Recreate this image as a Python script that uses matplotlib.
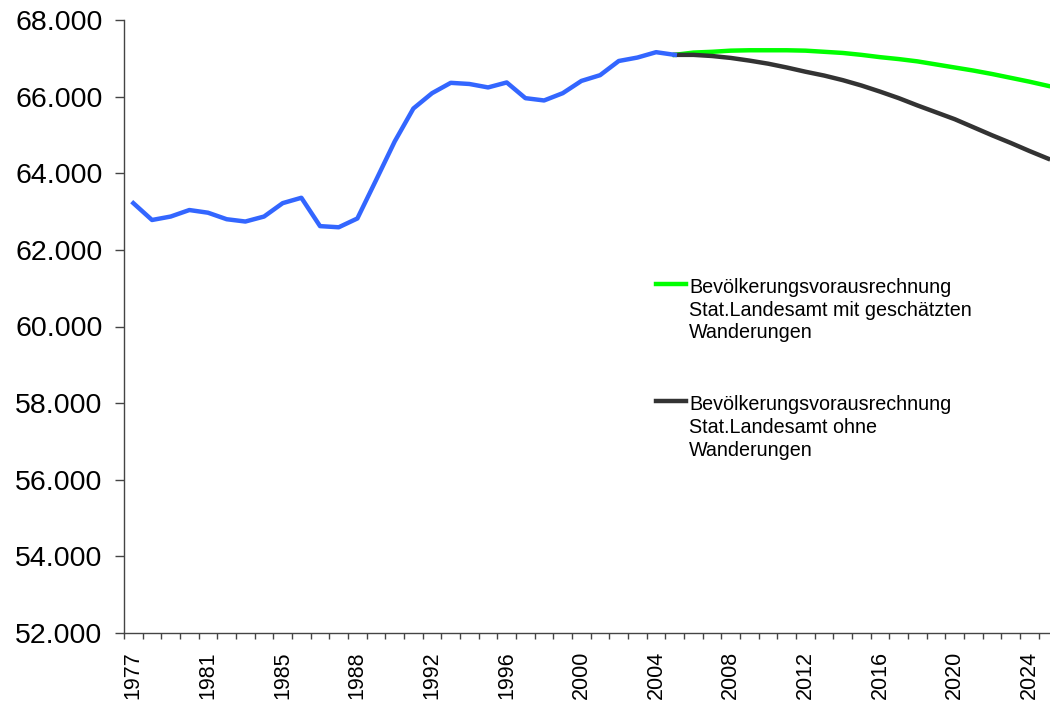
import matplotlib
matplotlib.use("Agg")
import matplotlib.pyplot as plt
from matplotlib.lines import Line2D
from matplotlib.ticker import FuncFormatter
import numpy as np

plt.rcParams['font.family'] = ['Liberation Sans', 'DejaVu Sans']

# ---- data ----
years = ["1977", "1978", "1979", "1980", "1981", "1982", "1983", "1984", "1985",
         "1986", "1987", "1987", "1988", "1989", "1990", "1991", "1992", "1993",
         "1994", "1995", "1996", "1997", "1998", "1999", "2000", "2001", "2002",
         "2003", "2004", "2005", "2006", "2007", "2008", "2009", "2010", "2011",
         "2012", "2013", "2014", "2015", "2016", "2017", "2018", "2019", "2020",
         "2021", "2022", "2023", "2024", "2025"]

ist = [63220, 62780, 62870, 63040, 62970, 62800, 62740, 62870, 63220, 63360,
       62620, 62590, 62820, 63820, 64830, 65690, 66090, 66360, 66330, 66240,
       66370, 65960, 65900, 66090, 66410, 66560, 66930, 67020, 67160, 67090]

mit_wanderung = [67090, 67150, 67170, 67200, 67210, 67210, 67210, 67200, 67170,
                 67140, 67090, 67030, 66980, 66920, 66840, 66760, 66680, 66590,
                 66490, 66390, 66280]

ohne_wanderung = [67090, 67090, 67060, 67010, 66940, 66860, 66760, 66650, 66550,
                  66430, 66290, 66130, 65960, 65770, 65590, 65410, 65200, 64990,
                  64790, 64580, 64380]

label_mit = "Bevölkerungsvorausrechnung\nStat.Landesamt mit geschätzten\nWanderungen"
label_ohne = "Bevölkerungsvorausrechnung\nStat.Landesamt ohne\nWanderungen"

# ---- figure ----
W, H = 1050, 702
fig = plt.figure(figsize=(W / 100, H / 100), dpi=100)
ax = fig.add_axes([124 / W, 1 - 633 / H, 933.5 / W, 613 / H])

n = len(years)
x = np.arange(n)
x_ist = x[:len(ist)]
x_prog = x[len(ist) - 1:len(ist) - 1 + len(mit_wanderung)]

c_blue = "#3366FF"
c_green = "#00FF00"
c_dark = "#333333"

ax.plot(x_ist, ist, color=c_blue, lw=3.2, zorder=3)
ax.plot(x_prog, ohne_wanderung, color=c_dark, lw=3.2, zorder=2)
ax.plot(x_prog, mit_wanderung, color=c_green, lw=3.2, zorder=1)

ax.set_xlim(-0.5, n - 0.5)
ax.set_ylim(52000, 68000)
ax.set_yticks(np.arange(52000, 68001, 2000))
ax.yaxis.set_major_formatter(FuncFormatter(lambda v, p: f"{int(v):,}".replace(",", ".")))
ax.tick_params(axis='y', which='major', direction='out', length=6.5, width=1,
               color='#444444', labelsize=20.5, pad=9, labelcolor='black')

# category axis: tick marks at boundaries, labels every 4th category
ax.set_xticks(np.arange(-0.5, n, 1.0))
ax.set_xticklabels([])
ax.tick_params(axis='x', which='major', direction='out', length=4.5, width=1,
               color='#444444')
lab_idx = list(range(0, n, 4))
ax.set_xticks(lab_idx, minor=True)
ax.set_xticklabels([years[i] for i in lab_idx], minor=True, rotation=90)
ax.tick_params(axis='x', which='minor', length=0, labelsize=15.5, pad=13,
               labelcolor='black')

for s in ['top', 'right']:
    ax.spines[s].set_visible(False)
for s in ['left', 'bottom']:
    ax.spines[s].set_color('#444444')
    ax.spines[s].set_linewidth(1)

# ---- legend (manual, in figure pixels) ----
def fx(px):
    return px / W

def fy(py):
    return 1 - py / H

for yy, col, lab in [(284, c_green, label_mit), (401, c_dark, label_ohne)]:
    fig.add_artist(Line2D([fx(656), fx(686)], [fy(yy), fy(yy)], color=col, lw=3.2,
                          transform=fig.transFigure))
    fig.text(fx(689), fy(yy - 6), lab, fontsize=14.2, va='top', ha='left',
             color='black', linespacing=1.25)

fig.savefig("out.png", dpi=100)
